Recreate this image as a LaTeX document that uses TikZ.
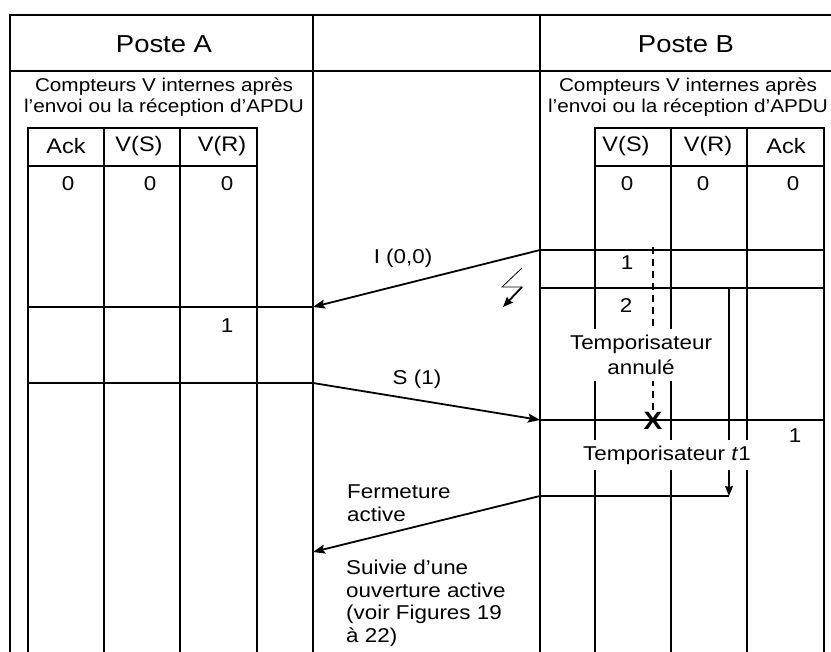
\documentclass[tikz,border=0pt]{standalone}
\usepackage{fontspec}
\setmainfont{Liberation Sans}[FakeStretch=1.12]
\usepackage{tikz}
\usetikzlibrary{arrows.meta, positioning}

\begin{document}
\begin{tikzpicture}[
    x=1pt, y=-1pt,
    txt/.style={inner sep=0pt, font=\fontsize{20}{23}\selectfont, align=center},
    cell/.style={txt, font=\fontsize{21}{23}\selectfont},
    head/.style={inner sep=0pt, font=\fontsize{24.5}{28}\selectfont},
    frame/.style={line width=2.8pt},
    sep/.style={line width=2pt},
    rule/.style={line width=1.4pt},
    msg/.style={-{Stealth[length=12pt, width=9pt, inset=2pt]}, line width=1.8pt},
    cover/.style={txt, fill=white, inner xsep=3pt, inner ysep=6pt}
  ]
    \useasboundingbox (0,0) rectangle (831,652);

    % cadre, en-tetes et lignes de temps
    \draw[frame] (831,15) -- (10,15) -- (10,652);
    \draw[rule] (10,71) -- (831,71);
    \draw[sep] (313,15) -- (313,652);
    \draw[sep] (540,15) -- (540,652);

    \node[head] (posteA) at (164,44) {Poste A};
    \node[head] (posteB) at (686,44) {Poste B};
    \node[txt, font=\fontsize{18.5}{21}\selectfont] (cptA) at (164,97) {Compteurs V internes après\\l’envoi ou la réception d’APDU};
    \node[txt, font=\fontsize{18.5}{21}\selectfont] (cptB) at (688,97) {Compteurs V internes après\\l’envoi ou la réception d’APDU};

    % tableau du poste A
    \draw[sep] (28,128) rectangle (257,166);
    \foreach \x in {28,104,180,257}
      \draw[sep] (\x,128) -- (\x,652);
    \draw[rule] (28,307) -- (313,307);
    \draw[rule] (28,383) -- (313,383);

    \node[cell] (ackA) at (66,146) {Ack};
    \node[cell] (vsA)  at (139,146) {V(S)};
    \node[cell] (vrA)  at (222,146) {V(R)};
    \node[txt] (ackA0) at (68,184) {0};
    \node[txt] (vsA0)  at (150,184) {0};
    \node[txt] (vrA0)  at (227,184) {0};
    \node[txt] (vrA1)  at (227,326) {1};

    % tableau du poste B
    \draw[sep] (595,128) rectangle (824,166);
    \foreach \x in {595,671,747,824}
      \draw[sep] (\x,128) -- (\x,652);

    \node[cell] (vsB)  at (626,146) {V(S)};
    \node[cell] (vrB)  at (708,146) {V(R)};
    \node[cell] (ackB) at (786,146) {Ack};
    \node[txt] (vsB0)  at (627,184) {0};
    \node[txt] (vrB0)  at (703,184) {0};
    \node[txt] (ackB0) at (793,184) {0};
    \node[txt] (vsB1)  at (627,263) {1};
    \node[txt] (vsB2)  at (626,306) {2};
    \node[txt] (ackB1) at (795,436) {1};

    % points d'emission / reception
    \coordinate (b1) at (540,250);
    \coordinate (a1) at (313,307);
    \coordinate (a2) at (313,383);
    \coordinate (b2) at (540,420);
    \coordinate (b3) at (540,496);
    \coordinate (a3) at (313,552);
    \coordinate (t1s) at (729,288);
    \coordinate (t1e) at (729,496);
    \coordinate (tas) at (653,247);
    \coordinate (bolt) at (522,287);

    \draw[rule] (b1) -- (824,250);
    \draw[rule] (540,288) -- (824,288);
    \draw[rule] (b2) -- (824,420);
    \draw[rule] (b3) -- (t1e);

    \node[txt, font=\fontsize{25}{25}\selectfont\bfseries] (xmark) at (653,421) {X};
    \draw[rule, dash pattern=on 7pt off 5pt] (tas) -- (xmark.north);
    \draw[msg, line width=1.5pt, -{Stealth[length=10pt, width=8pt, inset=1pt]}] (t1s) -- (t1e);

    \node[cover] (annule) at (641,355) {Temporisateur\\[2pt]annulé};
    \node[cover] (tempo)  at (667,455) {Temporisateur \textit{t}1};

    % messages
    \draw[msg] (b1) -- (a1);
    \draw[msg] (a2) -- (b2);
    \draw[msg] (b3) -- (a3);
    \node[txt] (lblI) at (403,258) {I (0,0)};
    \node[txt] (lblS) at (417,379) {S (1)};

    % perte
    \draw[line width=0.8pt] (bolt) -- ++(-20,0) -- ++(20,-19);
    \draw[msg, -{Stealth[length=10pt, width=8pt, inset=1pt]}] (bolt) -- ++(-19,20);

    \node[txt, anchor=west, align=left] (ferm) at (347,503) {Fermeture\\active};
    \node[txt, anchor=north west, align=left, font=\fontsize{20}{22.5}\selectfont] (suivie) at (346,560)
      {Suivie d’une\\ouverture active\\(voir Figures 19\\à 22)};
\end{tikzpicture}
\end{document}
